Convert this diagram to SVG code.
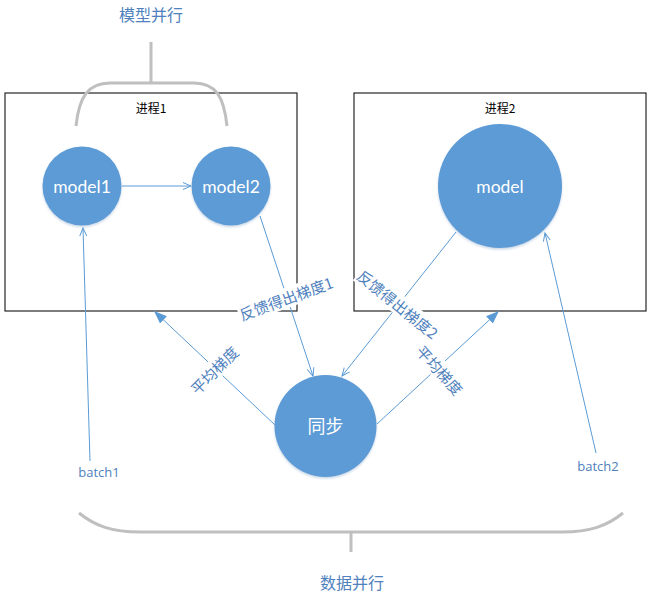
<svg xmlns="http://www.w3.org/2000/svg" width="652" height="599" viewBox="0 0 652 599">
<style>
.box{fill:#fff;stroke:#262626;stroke-width:1.2}
.node{fill:#5b9bd5;filter:url(#sh)}
.ntxt{fill:#fff;font-family:Lato,"Noto Sans CJK SC",sans-serif;font-size:17.5px;text-anchor:middle;dominant-baseline:central}
.ctxt{fill:#fff;font-family:"Noto Sans CJK SC",sans-serif;font-size:18px;text-anchor:middle;dominant-baseline:central}
.ptxt{fill:#000;font-family:"Noto Sans CJK SC",sans-serif;font-size:12px;text-anchor:middle;dominant-baseline:central}
.lbl{fill:#4f81bd;font-family:"Noto Sans CJK SC",sans-serif;font-size:15px;text-anchor:middle;dominant-baseline:central}
.btxt{fill:#4f81bd;font-family:"Open Sans","Noto Sans",sans-serif;font-size:13px;text-anchor:middle;dominant-baseline:central}
.conn{stroke:#5b9bd5;stroke-width:1;fill:none}
.brk{stroke:#bfbfbf;stroke-width:3;fill:none}
.bg{fill:#fff}
</style>
<defs>
<filter id="sh" x="-20%" y="-20%" width="140%" height="150%">
<feDropShadow dx="0" dy="1.5" stdDeviation="1.2" flood-color="#9fb9d6" flood-opacity="0.6"/>
</filter>
<marker id="open" markerWidth="10" markerHeight="10" refX="9" refY="5" orient="auto" markerUnits="userSpaceOnUse">
<path d="M1,1.5 L9,5 L1,8.5" fill="none" stroke="#5b9bd5" stroke-width="1"/>
</marker>
<marker id="fill" markerWidth="14" markerHeight="12" refX="13" refY="6" orient="auto" markerUnits="userSpaceOnUse">
<path d="M0,1 L13,6 L0,11 Z" fill="#5b9bd5"/>
</marker>
</defs>
<rect width="652" height="599" fill="#fff"/>

<g id="process1">
<rect class="box" x="5" y="93" width="292" height="218"/>
<text class="ptxt" x="151" y="107">进程1</text>
</g>
<g id="process2">
<rect class="box" x="354" y="93" width="292" height="218"/>
<text class="ptxt" x="500" y="107">进程2</text>
</g>

<g id="labels-top">
<text class="lbl" x="151" y="14" style="font-size:16px">模型并行</text>
<path class="brk" d="M151,42 V83 M76,126 C79,97 88,83 110,83 H194 C216,83 224,97 227,126"/>
</g>

<g id="connectors">
<line class="conn" x1="122" y1="186" x2="191" y2="186" marker-end="url(#open)"/>
<line class="conn" x1="90" y1="461" x2="83" y2="228" marker-end="url(#open)"/>
<line class="conn" x1="596" y1="453" x2="545" y2="233" marker-end="url(#open)"/>
<line class="conn" x1="260" y1="216" x2="313" y2="376" marker-end="url(#open)"/>
<line class="conn" x1="456" y1="232" x2="342" y2="376" marker-end="url(#open)"/>
<line class="conn" x1="275" y1="425" x2="154" y2="311" marker-end="url(#fill)"/>
<line class="conn" x1="377" y1="424" x2="499" y2="311" marker-end="url(#fill)"/>
</g>

<g id="model1">
<circle class="node" cx="82" cy="186" r="39.5"/>
<text class="ntxt" x="82" y="186">model1</text>
</g>
<g id="model2">
<circle class="node" cx="231" cy="186" r="39.5"/>
<text class="ntxt" x="231" y="186">model2</text>
</g>
<g id="model">
<circle class="node" cx="500" cy="186" r="62"/>
<text class="ntxt" x="500" y="186">model</text>
</g>
<g id="sync">
<circle class="node" cx="325.5" cy="426" r="51"/>
<text class="ctxt" x="325.5" y="425">同步</text>
</g>

<g id="edge-labels">
<g transform="translate(286,298) rotate(-20)">
<rect class="bg" x="-50" y="-10" width="100" height="20"/>
<text class="lbl" x="0" y="0">反馈得出梯度1</text>
</g>
<g transform="translate(398,304) rotate(39)">
<rect class="bg" x="-50" y="-10" width="100" height="20"/>
<text class="lbl" x="0" y="0">反馈得出梯度2</text>
</g>
<g transform="translate(214,370) rotate(-45)">
<rect class="bg" x="-31" y="-10" width="62" height="20"/>
<text class="lbl" x="0" y="0">平均梯度</text>
</g>
<g transform="translate(440,370) rotate(48)">
<rect class="bg" x="-31" y="-10" width="62" height="20"/>
<text class="lbl" x="0" y="0">平均梯度</text>
</g>
<text class="btxt" x="99" y="472">batch1</text>
<text class="btxt" x="598" y="466">batch2</text>
</g>

<g id="labels-bottom">
<path class="brk" d="M79,513 C95,526 112,532 140,532 H562 C590,532 607,526 623,513 M351,532 V552"/>
<text class="lbl" x="352" y="582" style="font-size:16px">数据并行</text>
</g>
</svg>
